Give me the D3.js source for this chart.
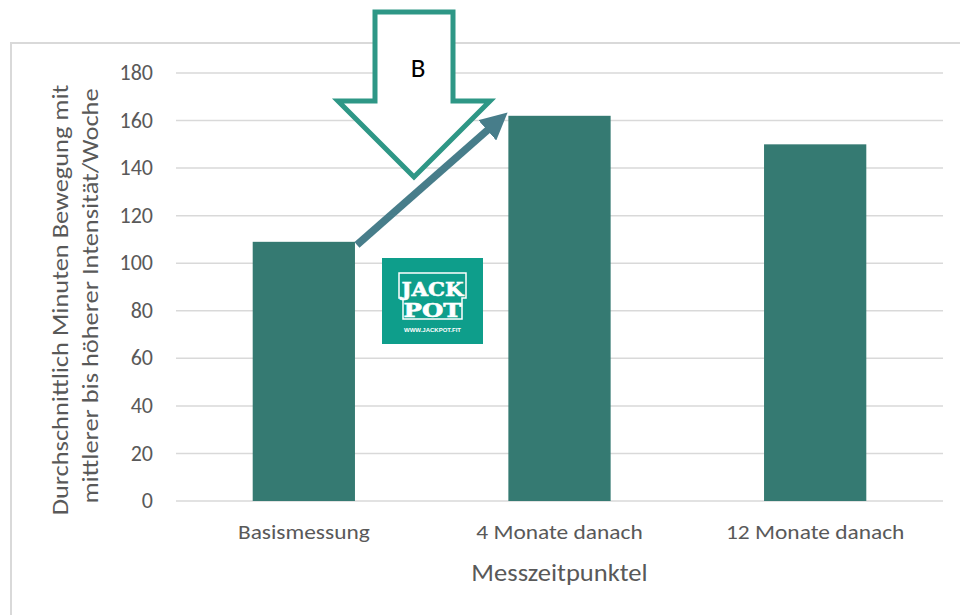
<!DOCTYPE html>
<html>
<head>
<meta charset="utf-8">
<script src="https://cdn.jsdelivr.net/npm/d3@7"></script>
<style>
  html, body { margin: 0; padding: 0; background: #fff; }
  svg { display: block; font-family: Calibri, Carlito, Lato, "Open Sans", sans-serif; }
</style>
</head>
<body>
<svg id="chart" width="960" height="615"></svg>
<script>
// Chart data
const categories = ["Basismessung", "4 Monate danach", "12 Monate danach"];
const values = [109, 162, 150];
const yTicks = [0, 20, 40, 60, 80, 100, 120, 140, 160, 180];
const yTitleLines = ["Durchschnittlich Minuten Bewegung mit", "mittlerer bis höherer Intensität/Woche"];
const xTitle = "Messzeitpunktel";
const calloutLabel = "B";

const svg = d3.select("#chart");
const W = 960, H = 615;
const plot = { left: 176, right: 943, top: 73, bottom: 501 };
const textGrey = "#595959";

// Widen a text element's run by a factor (Calibri-like proportions)
function widen(sel, factor) {
  sel.each(function () {
    const len = this.getComputedTextLength();
    d3.select(this).attr("textLength", len * factor).attr("lengthAdjust", "spacingAndGlyphs");
  });
}

// Outer chart frame
svg.append("rect")
  .attr("x", 11).attr("y", 43).attr("width", W + 10).attr("height", H)
  .attr("fill", "#fff").attr("stroke", "#d9d9d9").attr("stroke-width", 2);

const x = d3.scaleBand().domain(categories).range([plot.left, plot.right]).paddingInner(0.6).paddingOuter(0.3);
const y = d3.scaleLinear().domain([0, 180]).range([plot.bottom, plot.top]);

// Gridlines
svg.append("g").selectAll("line").data(yTicks).join("line")
  .attr("x1", plot.left).attr("x2", plot.right)
  .attr("y1", d => y(d)).attr("y2", d => y(d))
  .attr("stroke", "#d9d9d9").attr("stroke-width", 1.5);

// Y axis labels
const yAxis = svg.append("g").attr("transform", `translate(${plot.left - 23},0)`)
  .call(d3.axisLeft(y).tickValues(yTicks).tickSize(0).tickPadding(0));
yAxis.select(".domain").remove();
yAxis.selectAll("text").attr("fill", textGrey).style("font-size", "22px")
  .attr("dy", "0.3em").attr("font-family", "Calibri, Carlito, Lato, sans-serif");

// Bars
svg.append("g").selectAll("rect").data(values).join("rect")
  .attr("x", (d, i) => x(categories[i]))
  .attr("width", x.bandwidth())
  .attr("y", d => y(d))
  .attr("height", d => y(0) - y(d))
  .attr("fill", "#357a72");

// X axis labels
const xAxis = svg.append("g").attr("transform", `translate(0,${plot.bottom})`)
  .call(d3.axisBottom(x).tickSize(0).tickPadding(0));
xAxis.select(".domain").remove();
xAxis.selectAll("text").attr("fill", textGrey).style("font-size", "20px")
  .attr("dy", null).attr("y", 38).attr("font-family", "Calibri, Carlito, Lato, sans-serif");
widen(xAxis.selectAll("text"), 1.17);

// Axis titles
const xt = svg.append("text")
  .attr("x", (plot.left + plot.right) / 2 + 0).attr("y", 581)
  .attr("text-anchor", "middle").attr("fill", textGrey)
  .style("font-size", "23.5px").text(xTitle);
widen(xt, 1.13);

const titleBaselines = [68, 98];
const titleCenters = [300, 296];
yTitleLines.forEach((line, i) => {
  const t = svg.append("text")
    .attr("transform", `translate(${titleBaselines[i]},${titleCenters[i]}) rotate(-90)`)
    .attr("text-anchor", "middle").attr("fill", textGrey)
    .style("font-size", "22px").text(line);
  widen(t, 1.2);
});

// Rising arrow from first to second bar
const defs = svg.append("defs");
defs.append("marker").attr("id", "head")
  .attr("viewBox", "0 0 10 10").attr("refX", 2).attr("refY", 5)
  .attr("markerWidth", 3.6).attr("markerHeight", 3.6)
  .attr("orient", "auto")
  .append("path").attr("d", "M0,0 L10,5 L0,10 Z").attr("fill", "#477d8a");

const b0 = x(categories[0]) + x.bandwidth();
const b1 = x(categories[1]);
svg.append("line")
  .attr("x1", b0 + 2).attr("y1", y(values[0]) + 3)
  .attr("x2", b1 - 17).attr("y2", y(values[1]) + 11)
  .attr("stroke", "#477d8a").attr("stroke-width", 7.5)
  .attr("marker-end", "url(#head)");

// Callout down-arrow with label
const arrowPts = [[375, 12], [453, 12], [453, 101], [490, 101], [414, 177], [338, 101], [375, 101]];
svg.append("path")
  .attr("d", d3.line()(arrowPts) + "Z")
  .attr("fill", "#fff").attr("stroke", "#2e9786").attr("stroke-width", 5)
  .attr("stroke-linejoin", "miter");
svg.append("text")
  .attr("x", 418).attr("y", 77).attr("text-anchor", "middle")
  .attr("fill", "#000").style("font-size", "27px").text(calloutLabel);

// Logo badge
const logo = svg.append("g").attr("transform", "translate(382,258)");
logo.append("rect").attr("width", 101).attr("height", 86).attr("fill", "#0e9e8b");
logo.append("path")
  .attr("d", "M17,15 H84 V40 H80 V61 H21 V40 H17 Z")
  .attr("fill", "none").attr("stroke", "#fff").attr("stroke-width", 1.5);
const word = logo.append("text").attr("text-anchor", "middle")
  .attr("fill", "#fff").attr("stroke", "#fff").attr("stroke-width", 0.6)
  .attr("font-family", "'DejaVu Serif', 'Liberation Serif', serif")
  .attr("font-weight", "bold").style("font-size", "19px");
word.append("tspan").attr("x", 50.5).attr("y", 38)
  .attr("textLength", 62).attr("lengthAdjust", "spacingAndGlyphs").text("JACK");
word.append("tspan").attr("x", 50.5).attr("dy", 21)
  .attr("textLength", 58).attr("lengthAdjust", "spacingAndGlyphs").text("POT");
logo.append("text").attr("x", 50.5).attr("y", 74).attr("text-anchor", "middle")
  .attr("fill", "#fff").attr("font-family", "'Liberation Sans', Arial, sans-serif")
  .attr("font-weight", "bold").style("font-size", "6px").text("WWW.JACKPOT.FIT");
</script>
</body>
</html>
